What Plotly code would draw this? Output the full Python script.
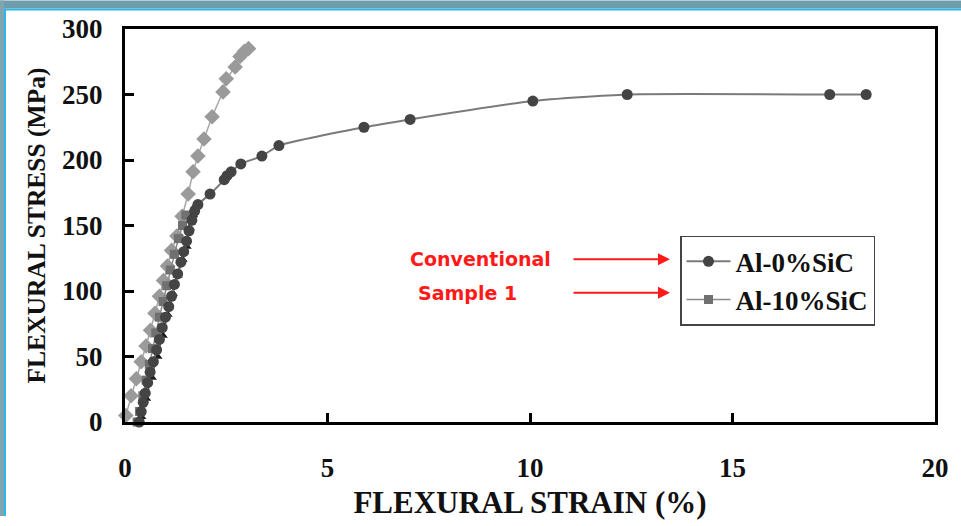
import plotly.graph_objects as go

# ---- data ----
al0_x = [0.35, 0.40, 0.45, 0.50, 0.56, 0.62, 0.70, 0.78, 0.85, 0.92, 1.00, 1.08, 1.15, 1.22, 1.30,
         1.38, 1.45, 1.52, 1.58, 1.65, 1.72, 1.80, 2.10, 2.45, 2.52, 2.62, 2.86, 3.38, 3.80, 5.90,
         7.04, 10.07, 12.40, 17.40, 18.30]
al0_y = [0, 8, 15, 22, 30, 38, 46, 55, 63, 72, 80, 88, 96, 105, 113,
         122, 130, 138, 146, 154, 161, 166, 174, 185, 188, 191, 197, 203, 211, 225,
         231, 245, 250, 250, 250]

al10_x = [0.30, 0.36, 0.44, 0.52, 0.60, 0.68, 0.76, 0.85, 0.94, 1.03, 1.12, 1.22, 1.32, 1.42, 1.50]
al10_y = [0, 8, 20, 32, 44, 56, 68, 80, 92, 104, 116, 128, 140, 150, 158]

light_x = [0.02, 0.15, 0.28, 0.40, 0.52, 0.63, 0.74, 0.85, 0.95, 1.05, 1.15, 1.28, 1.41, 1.56,
           1.68, 1.80, 1.95, 2.15, 2.42, 2.50, 2.72, 2.84, 2.95, 3.05]
light_y = [5, 20, 33, 46, 58, 70, 83, 96, 108, 119, 131, 142, 157, 174,
           191, 203, 216, 233, 252, 262, 271, 279, 283, 285]

black_x = [0.40, 0.52, 0.66, 0.80, 0.93, 1.05, 1.18, 1.30, 1.42, 1.52, 1.60, 1.68, 1.74]
black_y = [4, 18, 34, 50, 66, 82, 98, 112, 124, 134, 148, 158, 165]

x_ticks = [0, 5, 10, 15, 20]
y_ticks = [0, 50, 100, 150, 200, 250, 300]

W, H = 961, 526
L, R, T, B = 125, 935, 29, 430


def px(x):
    return (x - L) / (R - L)


def py(y):
    return (B - y) / (B - T)


fig = go.Figure()

fig.add_trace(go.Scatter(x=light_x, y=light_y, mode="lines+markers", showlegend=False,
                         line=dict(color="#a8a8a8", width=1.5),
                         marker=dict(symbol="diamond", size=12, color="#9a9a9a"),
                         cliponaxis=False))
fig.add_trace(go.Scatter(x=al10_x, y=al10_y, mode="lines+markers", name="<b>Al-10%SiC</b>",
                         line=dict(color="#8a8a8a", width=1.5),
                         marker=dict(symbol="square", size=9, color="#707070"),
                         cliponaxis=False))
fig.add_trace(go.Scatter(x=black_x, y=black_y, mode="lines+markers", showlegend=False,
                         line=dict(color="#555555", width=1.5),
                         marker=dict(symbol="triangle-up", size=9, color="#1a1a1a"),
                         cliponaxis=False))
fig.add_trace(go.Scatter(x=al0_x, y=al0_y, mode="lines+markers", name="<b>Al-0%SiC</b>",
                         line=dict(color="#7a7a7a", width=2, shape="spline", smoothing=0.5),
                         marker=dict(symbol="circle", size=11, color="#444444"),
                         cliponaxis=False))

tickfont = dict(family="Liberation Serif", size=27, color="#111111")

fig.update_layout(
    width=W, height=H,
    margin=dict(l=L, r=W - R, t=T, b=H - B),
    paper_bgcolor="white", plot_bgcolor="white",
    font=dict(family="Liberation Serif"),
    xaxis=dict(range=[0, 20], tickvals=x_ticks, ticktext=[f"<b>{v}</b>" for v in x_ticks],
               showgrid=False, zeroline=False, showline=True, mirror=True,
               linecolor="black", linewidth=3, ticks="inside", ticklen=9, tickwidth=2.5,
               tickcolor="black", tickfont=tickfont, ticklabelstandoff=20,
               title=dict(text="<b>FLEXURAL STRAIN (%)</b>",
                          font=dict(family="Liberation Serif", size=31, color="#111111"),
                          standoff=9)),
    yaxis=dict(range=[0, 300], tickvals=y_ticks, ticktext=[f"<b>{v}</b>" for v in y_ticks],
               showgrid=False, zeroline=False, showline=True, mirror=True,
               linecolor="black", linewidth=3, ticks="inside", ticklen=9, tickwidth=2.5,
               tickcolor="black", tickfont=tickfont, ticklabelstandoff=14,
               title=dict(text="<b>FLEXURAL STRESS (MPa)</b>",
                          font=dict(family="Liberation Serif", size=25.5, color="#111111"),
                          standoff=10)),
    legend=dict(x=px(680), y=py(240), xanchor="left", yanchor="top",
                bgcolor="white", bordercolor="#444444", borderwidth=1.5,
                font=dict(family="Liberation Serif", size=27, color="#111111"),
                traceorder="reversed", tracegroupgap=0, itemwidth=44),
    showlegend=True,
)

# slide decoration strips
shapes = [
    dict(type="rect", xref="paper", yref="paper", x0=px(0), x1=px(W), y0=py(0), y1=py(8),
         fillcolor="#6f9cab", line=dict(width=0), layer="above"),
    dict(type="rect", xref="paper", yref="paper", x0=px(0), x1=px(W), y0=py(8), y1=py(10),
         fillcolor="#2fb6e6", line=dict(width=0), layer="above"),
    dict(type="rect", xref="paper", yref="paper", x0=px(0), x1=px(4), y0=py(0), y1=py(H),
         fillcolor="#7ea5b2", line=dict(width=0), layer="above"),
    dict(type="rect", xref="paper", yref="paper", x0=px(4), x1=px(6), y0=py(8), y1=py(H),
         fillcolor="#2fb6e6", line=dict(width=0), layer="above"),
]
fig.update_layout(shapes=shapes)

# red labels and arrows
redfont = dict(family="DejaVu Sans", size=19, color="#ff1a1a")
fig.add_annotation(x=px(480), y=py(264), xref="paper", yref="paper", text="<b>Conventional</b>",
                   showarrow=False, font=redfont, xanchor="center", yanchor="middle")
fig.add_annotation(x=px(467), y=py(298), xref="paper", yref="paper", text="<b>Sample 1</b>",
                   showarrow=False, font=redfont, xanchor="center", yanchor="middle")
for yy in (264, 298):
    fig.add_annotation(x=px(670), y=py(yy), xref="paper", yref="paper", text="",
                       showarrow=True, ax=-98, ay=0, axref="pixel", ayref="pixel",
                       arrowhead=2, arrowsize=1.2, arrowwidth=2, arrowcolor="#ff1a1a")

fig.write_html("out.html")
